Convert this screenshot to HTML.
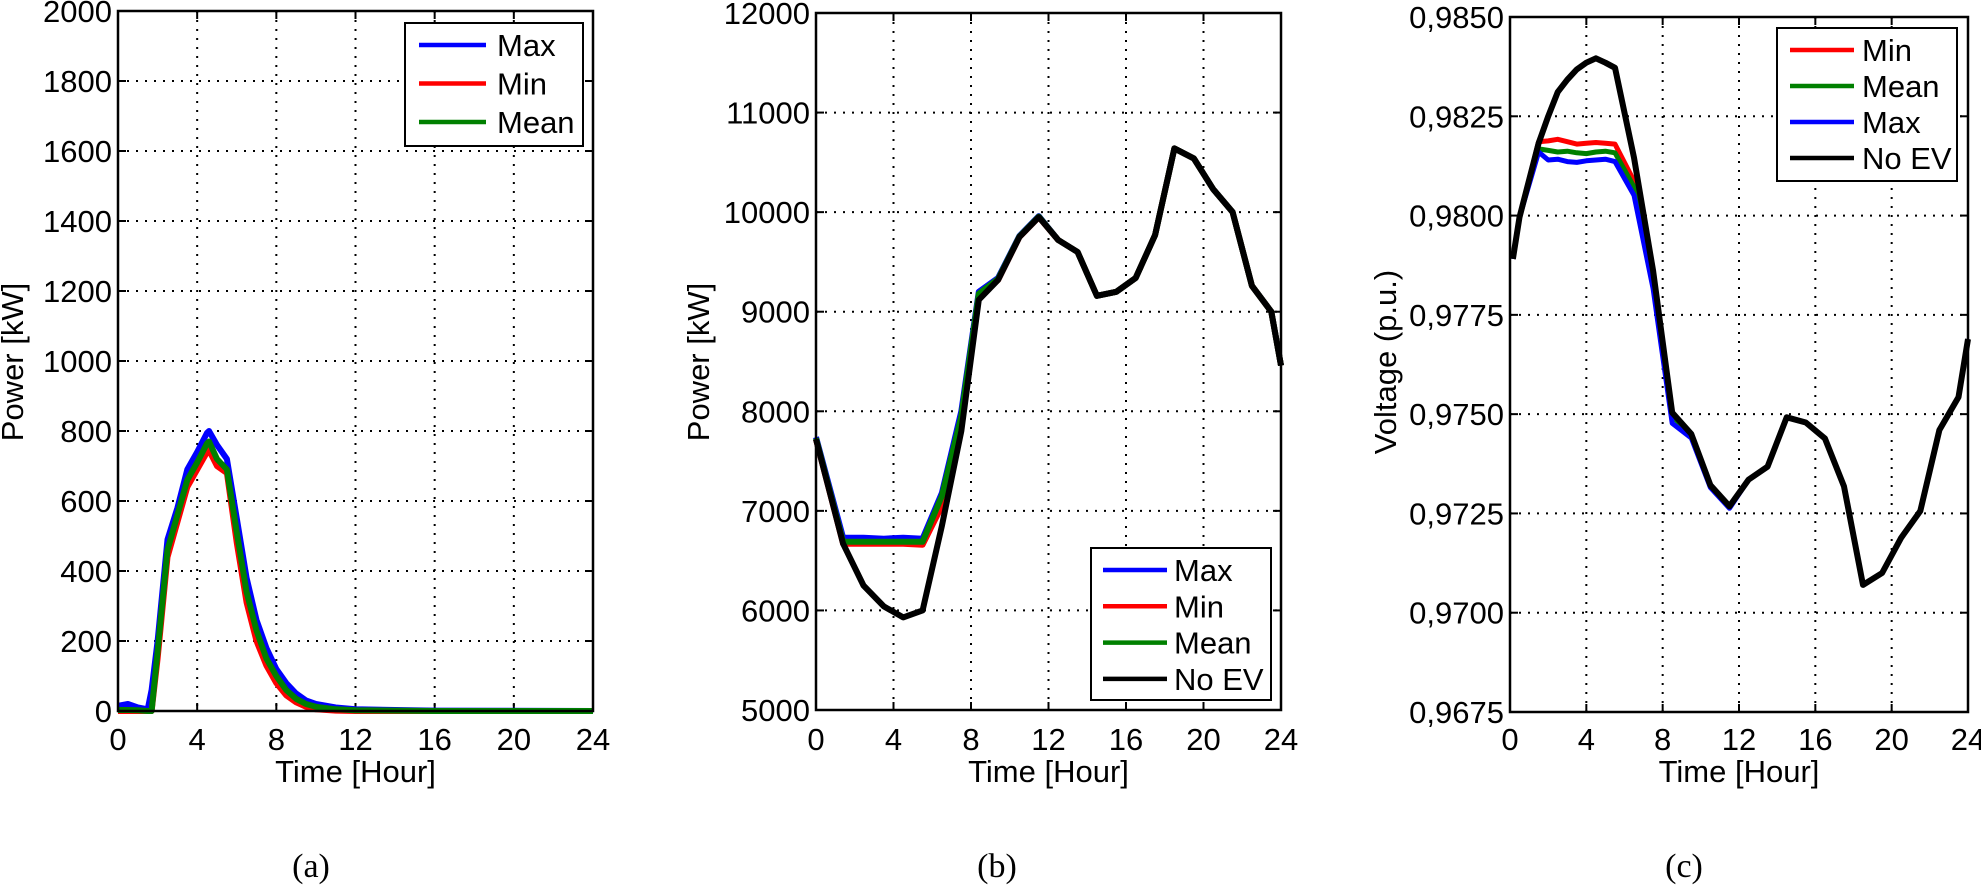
<!DOCTYPE html>
<html><head><meta charset="utf-8">
<style>
body{margin:0;background:#fff;}
svg{display:block;}
text{font-family:"Liberation Sans",sans-serif;fill:#000;}
.tk{font-size:31px;}
.cap{font-family:"Liberation Serif",serif;font-size:34px;}
</style></head>
<body>
<svg id="fig" width="1981" height="887" viewBox="0 0 1981 887" xmlns="http://www.w3.org/2000/svg"></svg>
<script>
// ---- Panel (a) data ----
const aTime = [0,0.5,1,1.5,1.7,2,2.5,3,3.5,4,4.5,4.6,5,5.5,6,6.5,7,7.5,8,8.5,9,9.5,10,11,12,14,16,24];
const aMax  = [15,20,10,5,60,200,490,580,690,740,795,800,760,720,550,380,260,180,120,80,50,30,20,10,5,3,1,0];
const aMean = [3,3,2,0,0,170,460,560,660,710,765,770,720,690,510,340,230,150,100,60,35,20,12,5,2,1,0,0];
const aMin  = [0,0,0,0,0,150,440,540,640,690,740,745,700,680,480,310,200,130,80,45,25,12,5,1,0,0,0,0];
const aYTicks = [0,200,400,600,800,1000,1200,1400,1600,1800,2000];
const xTicks = [0,4,8,12,16,20,24];

// ---- Panel (b) data ----
const bTime = [0,1.4,2.45,3.5,4.5,5.5,6.5,7.5,8.4,9.4,10.5,11.5,12.5,13.5,14.5,15.5,16.5,17.5,18.5,19.5,20.5,21.5,22.5,23.5,24];
const bNoEV = [7720,6670,6250,6040,5930,6000,6850,7800,9120,9320,9750,9950,9720,9600,9160,9200,9340,9770,10640,10540,10230,10000,9260,9000,8460];
const bMax  = [7740,6730,6730,6720,6730,6720,7180,8000,9200,9340,9760,9960,9720,9600,9160,9200,9340,9770,10640,10540,10230,10000,9260,9000,8460];
const bMean = [7730,6690,6690,6690,6690,6690,7150,7950,9180,9330,9755,9955,9720,9600,9160,9200,9340,9770,10640,10540,10230,10000,9260,9000,8460];
const bMin  = [7720,6670,6670,6670,6670,6660,7050,7900,9150,9320,9750,9950,9720,9600,9160,9200,9340,9770,10640,10540,10230,10000,9260,9000,8460];
const bYTicks = [5000,6000,7000,8000,9000,10000,11000,12000];

// ---- Panel (c) data ----
const cTime = [0.15,0.5,1.5,2,2.5,3,3.5,4,4.5,5,5.5,6.5,7.5,8.5,9.5,10.5,11.5,12.5,13.5,14.5,15.5,16.5,17.5,18.5,19.5,20.5,21.5,22.5,23.5,24];
const cNoEV = [0.97891,0.97996,0.98182,0.98250,0.98311,0.98342,0.98368,0.98385,0.98396,0.98385,0.98372,0.98146,0.97861,0.97504,0.97450,0.97321,0.97268,0.97335,0.97368,0.97492,0.97479,0.97439,0.97318,0.97070,0.97100,0.97189,0.97256,0.97460,0.97543,0.97689];
const cMin  = [0.97891,0.97996,0.98186,0.98188,0.98192,0.98186,0.98180,0.98182,0.98184,0.98182,0.98180,0.98087,0.97830,0.97500,0.97450,0.97321,0.97268,0.97335,0.97368,0.97492,0.97479,0.97439,0.97318,0.97070,0.97100,0.97189,0.97256,0.97460,0.97543,0.97689];
const cMean = [0.97891,0.97996,0.98168,0.98164,0.98160,0.98162,0.98158,0.98156,0.98160,0.98162,0.98158,0.98072,0.97830,0.97495,0.97448,0.97320,0.97267,0.97335,0.97368,0.97492,0.97479,0.97439,0.97318,0.97070,0.97100,0.97189,0.97256,0.97460,0.97543,0.97689];
const cMax  = [0.97891,0.97996,0.98160,0.98140,0.98142,0.98136,0.98134,0.98138,0.98140,0.98142,0.98136,0.98051,0.97816,0.97477,0.97440,0.97315,0.97263,0.97335,0.97368,0.97492,0.97479,0.97439,0.97318,0.97070,0.97100,0.97189,0.97256,0.97460,0.97543,0.97689];
const cYTicks = [0.9675,0.9700,0.9725,0.9750,0.9775,0.9800,0.9825,0.9850];

const NS = "http://www.w3.org/2000/svg";
const svg = document.getElementById('fig');
function mk(tag, attrs, parent){
  const e = document.createElementNS(NS, tag);
  for (const k in attrs) e.setAttribute(k, attrs[k]);
  (parent||svg).appendChild(e);
  return e;
}
const COL = {Max:'#0000ff', Min:'#ff0000', Mean:'#008000', 'No EV':'#000000'};

function panel(id, box, yMin, yMax, yTicks, fmt, series, legend, ylabel, ylx, caption, capx){
  const g = mk('g', {});
  
  
  const {l, r, t, b} = box;
  const sx = v => l + (v - 0) / 24 * (r - l);
  const sy = v => b - (v - yMin) / (yMax - yMin) * (b - t);
  xTicks.forEach(v => {
    if (v > 0 && v < 24) {
      const gl = mk('line', {x1:sx(v), x2:sx(v), y1:t, y2:b, stroke:'#000', 'stroke-width':2, 'stroke-dasharray':'2,7'}, g);
      
      
    }
    const tk = mk('text', {x:sx(v), y:750, 'text-anchor':'middle', class:'tk'}, g);
    
    
    tk.textContent = v;
    mk('line', {x1:sx(v), x2:sx(v), y1:b, y2:b-8, stroke:'#000', 'stroke-width':2}, g);
    mk('line', {x1:sx(v), x2:sx(v), y1:t, y2:t+8, stroke:'#000', 'stroke-width':2}, g);
  });
  yTicks.forEach(v => {
    const y = sy(v);
    if (Math.abs(y - t) > 1 && Math.abs(y - b) > 1) {
      const gl = mk('line', {x1:l, x2:r, y1:y, y2:y, stroke:'#000', 'stroke-width':2, 'stroke-dasharray':'2,7'}, g);
      
      
    }
    mk('line', {x1:l, x2:l+8, y1:y, y2:y, stroke:'#000', 'stroke-width':2}, g);
    mk('line', {x1:r, x2:r-8, y1:y, y2:y, stroke:'#000', 'stroke-width':2}, g);
    const tk = mk('text', {x:l-6, y:y+11, 'text-anchor':'end', class:'tk'}, g);
    
    
    tk.textContent = fmt(v);
  });
  series.forEach(s => {
    const d = s.x.map((xv, i) => (i ? 'L' : 'M') + sx(xv).toFixed(1) + ',' + sy(s.y[i]).toFixed(1)).join('');
    const p = mk('path', {d:d, fill:'none', stroke:COL[s.name], 'stroke-width':s.w, 'stroke-linejoin':'round'}, g);
    
    
  });
  const fr = mk('rect', {x:l, y:t, width:r-l, height:b-t, fill:'none', stroke:'#000', 'stroke-width':2.5}, g);
  
  
  const lg = mk('g', {}, g);
  
  
  mk('rect', {x:legend.x, y:legend.y, width:legend.w, height:legend.h, fill:'#fff', stroke:'#000', 'stroke-width':2}, lg);
  legend.items.forEach((nm, i) => {
    const yy = legend.y0 + i * legend.dy;
    const le = mk('g', {}, lg);
    
    
    mk('line', {x1:legend.lx1, x2:legend.lx2, y1:yy, y2:yy, stroke:COL[nm], 'stroke-width':4.5}, le);
    const tx = mk('text', {x:legend.tx, y:yy+11, class:'tk'}, le);
    tx.textContent = nm;
  });
  const xl = mk('text', {x:(l+r)/2, y:782, 'text-anchor':'middle', class:'tk'}, g);
  
  
  xl.textContent = 'Time [Hour]';
  const yl = mk('text', {x:0, y:0, 'text-anchor':'middle', class:'tk', transform:'translate(' + ylx + ',362) rotate(-90)'}, g);
  
  
  yl.textContent = ylabel;
  const cp = mk('text', {x:capx, y:877, 'text-anchor':'middle', class:'cap'}, g);
  
  
  cp.textContent = caption;
}

panel('a', {l:118, r:593, t:11, b:711}, 0, 2000, aYTicks, v => String(v),
  [{name:'Max', x:aTime, y:aMax, w:6},{name:'Min', x:aTime, y:aMin, w:6},{name:'Mean', x:aTime, y:aMean, w:6}],
  {x:405, y:23, w:178, h:123, items:['Max','Min','Mean'], y0:45, dy:38.5, lx1:419, lx2:486, tx:497},
  'Power [kW]', 23, '(a)', 311);

panel('b', {l:816, r:1281, t:13, b:710}, 5000, 12000, bYTicks, v => String(v),
  [{name:'Max', x:bTime, y:bMax, w:6},{name:'Min', x:bTime, y:bMin, w:6},{name:'Mean', x:bTime, y:bMean, w:6},{name:'No EV', x:bTime, y:bNoEV, w:6}],
  {x:1091, y:548, w:180, h:152, items:['Max','Min','Mean','No EV'], y0:570, dy:36.3, lx1:1103, lx2:1167, tx:1174},
  'Power [kW]', 709, '(b)', 997);

panel('c', {l:1510, r:1968, t:17, b:712}, 0.9675, 0.9850, cYTicks, v => v.toFixed(4).replace('.', ','),
  [{name:'Min', x:cTime, y:cMin, w:5},{name:'Mean', x:cTime, y:cMean, w:5},{name:'Max', x:cTime, y:cMax, w:5},{name:'No EV', x:cTime, y:cNoEV, w:6}],
  {x:1777, y:28, w:180, h:153, items:['Min','Mean','Max','No EV'], y0:50, dy:36, lx1:1790, lx2:1854, tx:1862},
  'Voltage (p.u.)', 1396, '(c)', 1684);
</script>
</body></html>
